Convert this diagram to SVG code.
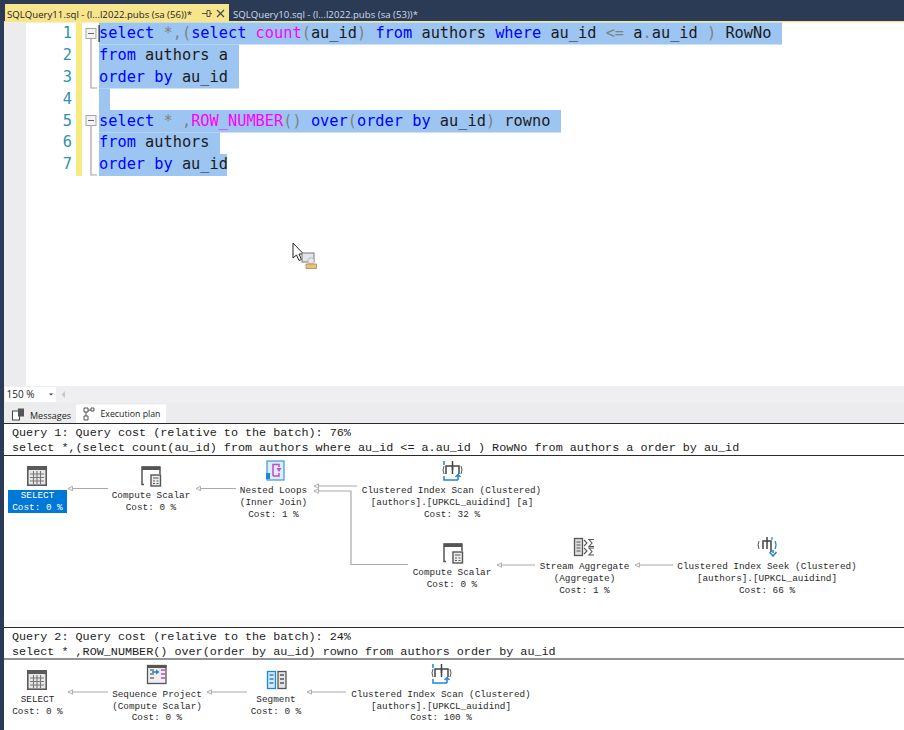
<svg xmlns="http://www.w3.org/2000/svg" width="904" height="730" viewBox="0 0 904 730">
<style>
.code{font-family:"DejaVu Sans Mono","Liberation Mono",monospace;font-size:15.3px;fill:#1a1a1a;white-space:pre}
.k{fill:#0000ff}.f{fill:#ff00ff}.g{fill:#808080}
.num{font-family:"DejaVu Sans Mono",monospace;font-size:15.3px;fill:#2b91af;text-anchor:end}
.ui{font-family:"Open Sans","Noto Sans",sans-serif;font-size:9.6px;fill:#222}
.hd{font-family:"Liberation Mono",monospace;font-size:11.77px;fill:#222;white-space:pre}
.lb{font-family:"Liberation Mono",monospace;font-size:9.35px;fill:#2a2a2a;text-anchor:middle;white-space:pre}
.sel{fill:#9cc5f2}
.conn{fill:none;stroke:#aaa;stroke-width:1.2}
.rule{stroke:#2a2a2a;stroke-width:1.2}
.blue{fill:none;stroke:#1e87d8;stroke-width:1.5}
.mag{fill:none;stroke:#c04ac8;stroke-width:1.5}
</style>
<defs>
<marker id="ah" viewBox="0 0 6 6" refX="0.5" refY="3" markerWidth="6" markerHeight="6" orient="auto" markerUnits="userSpaceOnUse"><path d="M5 0.8L0.5 3L5 5.2Z" fill="#f4f4f4" stroke="#aaa" stroke-width="0.9"/></marker>
<g id="iTable"><rect x="0.8" y="0.8" width="18.4" height="18.4" fill="#e8e8e8" stroke="#5a5a5a" stroke-width="1.6"/><rect x="0" y="0" width="20" height="4" fill="#5a5a5a"/><path d="M3 8H17M3 11.500H17M3 15H17M6.500 5V18M10 5V18M13.500 5V18" stroke="#777" stroke-width="1.100" fill="none"/></g>
<g id="iCalc"><path d="M3 18.500H1V1H19V8" fill="none" stroke="#555" stroke-width="1.500"/><rect x="1" y="0.500" width="18" height="3.500" fill="#555"/><rect x="10" y="9" width="9.500" height="11" fill="#eee" stroke="#555" stroke-width="1.400"/><path d="M12 12H17.500M12 15H14M15.500 15H17.500M12 17.500H14M15.500 17.500H17.500" stroke="#555"/></g>
<g id="iScan"><path d="M9.500 0V9M3 13V5H16V13" fill="none" stroke="#444" stroke-width="1.500"/><path d="M9.500 5V13" stroke="#444" stroke-width="1.500"/><path d="M1 5Q-1 9 1 13M18 5Q20 9 18 13" fill="none" stroke="#555"/><path d="M1 0V4" stroke="#1e87d8" stroke-width="1.500"/><path d="M1 15V19H15" class="blue"/><path d="M15 19V14M12.500 16L15 13.500L17.500 16" class="blue"/></g>
</defs>

<rect width="904" height="730" fill="#fff"/>
<rect width="904" height="22" fill="#2b3a55"/>
<rect y="21" width="904" height="1.500" fill="#f4e88e"/>
<rect x="0" y="0" width="4" height="730" fill="#2b3a55"/>

<!-- document tabs -->
<rect x="5" y="4" width="224" height="18" fill="#f7e58d"/>
<text class="ui" x="7" y="17.500" textLength="185">SQLQuery11.sql - (l...l2022.pubs (sa (56))*</text>
<path d="M202 13.500H207M207 10.500V16.500H210V10.500ZM210 13.500H212" fill="none" stroke="#444" stroke-width="0.900"/>
<path d="M217 10L224 17M224 10L217 17" stroke="#444" stroke-width="1.100"/>
<text class="ui" x="233" y="17.500" textLength="185" style="fill:#d3dbe9">SQLQuery10.sql - (l...l2022.pubs (sa (53))*</text>

<!-- editor -->
<rect x="4" y="22.500" width="22" height="363.500" fill="#ececef"/>
<rect x="76" y="22.500" width="6" height="153.500" fill="#f7ea7e"/>
<g id="selection">
<rect class="sel" x="99" y="22.500" width="683" height="22"/>
<rect class="sel" x="99" y="44.500" width="140" height="44"/>
<rect class="sel" x="99" y="88.500" width="11" height="21.500"/>
<rect class="sel" x="99" y="110" width="462" height="22.500"/>
<rect class="sel" x="99" y="132.500" width="121" height="21.500"/>
<rect class="sel" x="99" y="154" width="128" height="22"/>
</g>
<g id="gutter">
<text class="num" x="72" y="38">1</text>
<text class="num" x="72" y="60">2</text>
<text class="num" x="72" y="82">3</text>
<text class="num" x="72" y="103.500">4</text>
<text class="num" x="72" y="125.500">5</text>
<text class="num" x="72" y="147">6</text>
<text class="num" x="72" y="169">7</text>
<path d="M91 39V88H97M91 126V175H97" fill="none" stroke="#a5a5a5" stroke-width="1.200"/>
<rect x="86" y="28.500" width="10" height="10" fill="#f4f4f4" stroke="#a5a5a5"/><path d="M88 33.500H94" stroke="#666"/>
<rect x="86" y="115.500" width="10" height="10" fill="#f4f4f4" stroke="#a5a5a5"/><path d="M88 120.500H94" stroke="#666"/>
<rect x="98.500" y="25" width="1.200" height="17" fill="#222"/>
</g>
<g id="sql">
<text class="code" x="99" y="38"><tspan class="k">select</tspan> <tspan class="g">*,(</tspan><tspan class="k">select</tspan> <tspan class="f">count</tspan><tspan class="g">(</tspan>au_id<tspan class="g">)</tspan> <tspan class="k">from</tspan> authors <tspan class="k">where</tspan> au_id <tspan class="g">&lt;=</tspan> a<tspan class="g">.</tspan>au_id <tspan class="g">)</tspan> RowNo</text>
<text class="code" x="99" y="60"><tspan class="k">from</tspan> authors a</text>
<text class="code" x="99" y="82"><tspan class="k">order by</tspan> au_id</text>
<text class="code" x="99" y="125.500"><tspan class="k">select</tspan> <tspan class="g">*</tspan> <tspan class="g">,</tspan><tspan class="f">ROW_NUMBER</tspan><tspan class="g">()</tspan> <tspan class="k">over</tspan><tspan class="g">(</tspan><tspan class="k">order by</tspan> au_id<tspan class="g">)</tspan> rowno</text>
<text class="code" x="99" y="147"><tspan class="k">from</tspan> authors</text>
<text class="code" x="99" y="169"><tspan class="k">order by</tspan> au_id</text>
</g>

<!-- cursor -->
<g id="cursor">
<path d="M293 243V258L296.500 255L299 260.500L301.500 259.500L299 254H303.500Z" fill="#fff" stroke="#222" stroke-width="1"/>
<rect x="302" y="253" width="12" height="9" fill="#dfe6ee" stroke="#777"/>
<circle cx="311" cy="261" r="3.200" fill="#e8e8e8" stroke="#999" stroke-width="0.600"/>
<rect x="306" y="264" width="10.500" height="4.500" fill="#e9c27a" stroke="#a67f3a" stroke-width="0.700"/>
</g>

<!-- status and result tabs -->
<rect x="4" y="386" width="900" height="17" fill="#efeff2"/>
<rect x="5" y="387" width="51" height="15" fill="#fff"/>
<text class="ui" x="6.500" y="398" style="font-size:10px">150 %</text>
<path d="M49 393.500L53 393.500L51 395.500Z" fill="#333"/>
<path d="M65 391V398L61.500 394.500Z" fill="#c8c8c8"/>
<rect x="4" y="403" width="900" height="20" fill="#ececef"/>
<rect x="76" y="404.500" width="90" height="18.500" fill="#fff"/>
<g id="tabMessages">
<rect x="12.500" y="411" width="7" height="9" fill="#fff" stroke="#444"/><rect x="18" y="408.500" width="6" height="8" fill="#555"/>
<text class="ui" x="30" y="419" textLength="41" lengthAdjust="spacingAndGlyphs">Messages</text>
</g>
<g id="tabPlan">
<path d="M84 408H88V412H84ZM91 408H94V411H91ZM84 416H88V420H84ZM88 410H91M86 412V416" fill="#fff" stroke="#444" stroke-width="0.900"/>
<text class="ui" x="100.500" y="417" textLength="60" lengthAdjust="spacingAndGlyphs">Execution plan</text>
</g>

<!-- plan headers -->
<line class="rule" x1="4" y1="423.500" x2="904" y2="423.500"/>
<text class="hd" x="12" y="436">Query 1: Query cost (relative to the batch): 76%</text>
<text class="hd" x="12" y="451">select *,(select count(au_id) from authors where au_id &lt;= a.au_id ) RowNo from authors a order by au_id</text>
<line class="rule" x1="4" y1="455.500" x2="904" y2="455.500"/>
<rect x="4" y="620" width="900" height="7" fill="#fafafa"/>
<line class="rule" x1="4" y1="627.500" x2="904" y2="627.500"/>
<text class="hd" x="12" y="640">Query 2: Query cost (relative to the batch): 24%</text>
<text class="hd" x="12" y="655">select * ,ROW_NUMBER() over(order by au_id) rowno from authors order by au_id</text>
<line class="rule" x1="4" y1="659" x2="904" y2="659"/>

<!-- connectors -->
<g id="connectors">
<path class="conn" marker-start="url(#ah)" d="M68 488.500H108"/>
<path class="conn" marker-start="url(#ah)" d="M196 488.500H236"/>
<path class="conn" marker-start="url(#ah)" d="M314 486H357"/>
<path class="conn" marker-start="url(#ah)" d="M314 491H351V564.500H408"/>
<path class="conn" marker-start="url(#ah)" d="M497 565H535"/>
<path class="conn" marker-start="url(#ah)" d="M635 565H673"/>
<path class="conn" marker-start="url(#ah)" d="M68 692H108"/>
<path class="conn" marker-start="url(#ah)" d="M207 692H247"/>
<path class="conn" marker-start="url(#ah)" d="M307 692H346"/>
</g>

<!-- query 1 nodes -->
<g id="q1-select">
<use href="#iTable" x="27" y="466"/>
<rect x="8" y="490" width="59" height="23" fill="#0078d7"/>
<text class="lb" x="37.500" y="498" style="fill:#fff">SELECT</text>
<text class="lb" x="37.500" y="510" style="fill:#fff">Cost: 0 %</text>
</g>
<g id="q1-compute">
<use href="#iCalc" x="141" y="466"/>
<text class="lb" x="151" y="498">Compute Scalar</text>
<text class="lb" x="151" y="510">Cost: 0 %</text>
</g>
<g id="q1-nested">
<rect x="267" y="461" width="17" height="19" fill="#dcecf8" stroke="#4a9fdc" stroke-width="1.300"/>
<path class="mag" d="M273 476V464.500H279V467M279 473V476H273"/>
<path d="M266 473H270V479H266Z" fill="#1e87d8"/>
<path d="M279 472L276.500 468H281.500Z" fill="#c04ac8"/>
<text class="lb" x="273.500" y="493">Nested Loops</text>
<text class="lb" x="273.500" y="505">(Inner Join)</text>
<text class="lb" x="273.500" y="517">Cost: 1 %</text>
</g>
<g id="q1-scan">
<use href="#iScan" x="443" y="461"/>
<text class="lb" x="451.500" y="493">Clustered Index Scan (Clustered)</text>
<text class="lb" x="452" y="505">[authors].[UPKCL_auidind] [a]</text>
<text class="lb" x="452" y="516.500">Cost: 32 %</text>
</g>
<g id="q1-compute2">
<use href="#iCalc" x="443" y="543"/>
<text class="lb" x="452" y="575">Compute Scalar</text>
<text class="lb" x="452" y="587">Cost: 0 %</text>
</g>
<g id="q1-aggregate">
<rect x="574.500" y="538.500" width="8" height="17" fill="#ddd" stroke="#555" stroke-width="1.300"/>
<path d="M576.500 542H580.500M576.500 545H580.500M576.500 548H580.500M576.500 551H580.500" stroke="#555"/>
<path d="M584 540L587 543L584 546M584 548L587 551L584 554M594 539.500H589L592 543L589 546.500H594M594 548H589L592 551.500L589 555H594" fill="none" stroke="#555" stroke-width="1.100"/>
<text class="lb" x="584.500" y="569">Stream Aggregate</text>
<text class="lb" x="584.500" y="581">(Aggregate)</text>
<text class="lb" x="584.500" y="593">Cost: 1 %</text>
</g>
<g id="q1-seek">
<path d="M763 549V541H771V552M767 537V549" fill="none" stroke="#444" stroke-width="1.500"/>
<path d="M759 541Q757 545 759 549" fill="none" stroke="#555"/>
<path d="M772 537V540M775 541Q777 545 775 549" fill="none" stroke="#1e87d8" stroke-width="1.200"/>
<path d="M773 550V553M769.500 552L773 556L776.500 552" class="blue"/>
<text class="lb" x="767" y="569">Clustered Index Seek (Clustered)</text>
<text class="lb" x="767" y="581">[authors].[UPKCL_auidind]</text>
<text class="lb" x="767" y="593">Cost: 66 %</text>
</g>

<!-- query 2 nodes -->
<g id="q2-select">
<use href="#iTable" x="27" y="670"/>
<text class="lb" x="37.500" y="702">SELECT</text>
<text class="lb" x="37.500" y="714">Cost: 0 %</text>
</g>
<g id="q2-sequence">
<rect x="147.500" y="665.500" width="18.500" height="18" fill="#eee" stroke="#555" stroke-width="1.300"/>
<rect x="147" y="665" width="19.500" height="3" fill="#555"/>
<path d="M150 670H154M150 674H154M150 678H154" stroke="#777" stroke-width="1.500"/>
<path d="M152 672H157" stroke="#1e87d8" stroke-width="1.600"/><path d="M156 669.500L159.500 672L156 674.500Z" fill="#1e87d8"/>
<path d="M161 670H165M161 674H165M161 678H165" stroke="#c04ac8" stroke-width="1.500"/>
<text class="lb" x="157" y="696.500">Sequence Project</text>
<text class="lb" x="157" y="708.500">(Compute Scalar)</text>
<text class="lb" x="157" y="720">Cost: 0 %</text>
</g>
<g id="q2-segment">
<rect x="267.500" y="671.500" width="8" height="17" fill="#d6e9f8" stroke="#1e87d8" stroke-width="1.300"/>
<rect x="278" y="671.500" width="8" height="17" fill="#e4e4e4" stroke="#555" stroke-width="1.300"/>
<path d="M269.500 675H273.500M269.500 679H273.500M269.500 683H273.500" stroke="#1e87d8" stroke-width="1.300"/>
<path d="M280 675H284M280 679H284M280 683H284" stroke="#555" stroke-width="1.300"/>
<text class="lb" x="276" y="702">Segment</text>
<text class="lb" x="276" y="714">Cost: 0 %</text>
</g>
<g id="q2-scan">
<use href="#iScan" x="432" y="664"/>
<text class="lb" x="441" y="696.500">Clustered Index Scan (Clustered)</text>
<text class="lb" x="441" y="708.500">[authors].[UPKCL_auidind]</text>
<text class="lb" x="441" y="720">Cost: 100 %</text>
</g>
</svg>
